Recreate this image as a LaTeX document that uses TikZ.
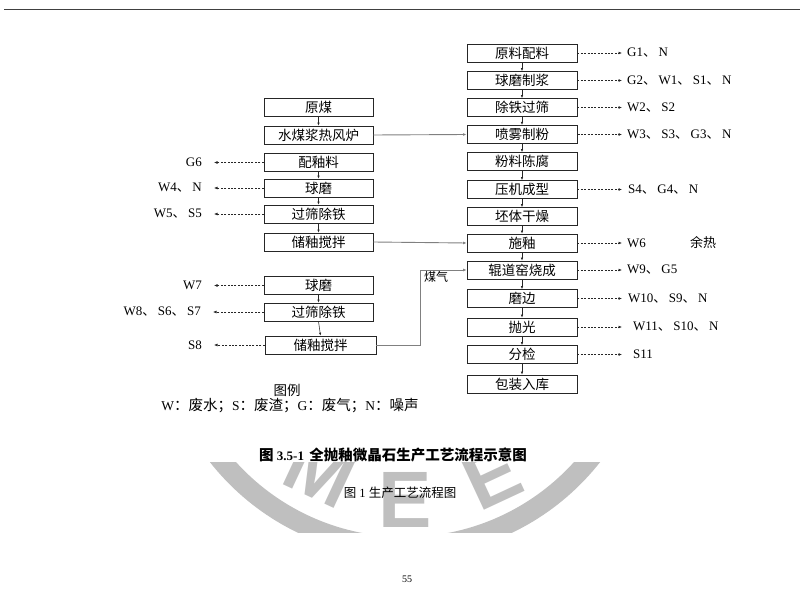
\documentclass[tikz,border=0pt]{standalone}
\usepackage{fontspec}
\setmainfont{Liberation Serif}
\newfontfamily\cjk{Noto Sans CJK SC}
\newfontfamily\wmfont{Liberation Sans}
\usetikzlibrary{arrows.meta}
\newcommand{\mydun}{{\cjk 、}\hspace{2.5pt}}
\tikzset{
  box/.style={draw=black!85, line width=0.7pt, minimum width=110pt, minimum height=18pt, inner sep=0pt, font=\cjk\fontsize{13.5}{14}\selectfont},
  rlab/.style={anchor=west, inner sep=0pt, font=\fontsize{13}{14}\selectfont},
  llab/.style={anchor=east, inner sep=0pt, font=\fontsize{13}{14}\selectfont},
  dar/.style={draw=black!85, dash pattern=on 2pt off 1.4pt, line width=0.55pt, -{Latex[length=3.5pt,width=2.8pt]}},
  sar/.style={draw=black!85, line width=0.55pt, -{Latex[length=3pt,width=2.4pt]}},
  gar/.style={draw=gray, line width=0.9pt, -{Latex[length=3.5pt,width=2.8pt]}},
  wm/.style={text=gray!50, inner sep=0pt, font=\wmfont\bfseries\fontsize{80}{80}\selectfont}
}
\begin{document}
\begin{tikzpicture}[x=1pt,y=-1pt]
\useasboundingbox (0,0) rectangle (800,596);
% watermark
\begin{scope}
\clip (0,462) rectangle (800,532);
\draw[gray!50, line width=20pt] (405,309) circle[radius=238];
\node[wm, rotate=-25] (wmM) at (320,472) {M};
\node[wm] (wmE) at (405,500) {E};
\node[wm, rotate=25] (wmE2) at (492,476) {E};
\end{scope}
% top rule
\draw[line width=1.6pt, black!75] (4,9.5) -- (800,9.5);
% right column
\node[box] (r1) at (522,53) {原料配料};
\node[box] (r2) at (522,80.5) {球磨制浆};
\node[box] (r3) at (522,107.5) {除铁过筛};
\node[box, line width=1pt] (r4) at (522,134.5) {喷雾制粉};
\node[box] (r5) at (522,161.5) {粉料陈腐};
\node[box] (r6) at (522,189.5) {压机成型};
\node[box] (r7) at (522,216.5) {坯体干燥};
\node[box] (r8) at (522,243) {施釉};
\node[box] (r9) at (522,270) {辊道窑烧成};
\node[box] (r10) at (522,298.5) {磨边};
\node[box] (r11) at (522,327) {抛光};
\node[box] (r12) at (522,354.5) {分检};
\node[box] (r13) at (522,384) {包装入库};
\foreach \a/\b in {r1/r2,r2/r3,r3/r4,r4/r5,r5/r6,r6/r7,r7/r8,r8/r9,r9/r10,r10/r11,r11/r12,r12/r13}
  \draw[sar] (\a) -- (\b);
% right labels
\node[rlab] (g1) at (627,53) {G1\mydun N};
\node[rlab] (g2) at (627,80.5) {G2\mydun W1\mydun S1\mydun N};
\node[rlab] (g3) at (627,107.5) {W2\mydun S2};
\node[rlab] (g4) at (627,134.5) {W3\mydun S3\mydun G3\mydun N};
\node[rlab] (g6) at (628,189.5) {S4\mydun G4\mydun N};
\node[rlab] (g8) at (627,243) {W6};
\node[rlab, font=\cjk\fontsize{13}{14}\selectfont] (yr) at (690,243) {余热};
\node[rlab] (g9) at (627,270) {W9\mydun G5};
\node[rlab] (g10) at (628,298.5) {W10\mydun S9\mydun N};
\node[rlab] (g11) at (633,327) {W11\mydun S10\mydun N};
\node[rlab] (g12) at (633,354.5) {S11};
\foreach \a/\b/\s in {r1/g1/5,r2/g2/5,r3/g3/5,r4/g4/5,r6/g6/6,r8/g8/5,r9/g9/5,r10/g10/6,r11/g11/11,r12/g12/11}
  \draw[dar] (\a.east) -- ([xshift=-\s pt]\b.west);
% left column (upper)
\node[box, minimum width=109pt] (la1) at (318.5,107) {原煤};
\node[box, minimum width=109pt] (la2) at (318.5,135) {水煤浆热风炉};
\node[box, minimum width=109pt] (la3) at (318.5,162.5) {配釉料};
\node[box, minimum width=109pt] (la4) at (318.5,188) {球磨};
\node[box, minimum width=109pt] (la5) at (318.5,214) {过筛除铁};
\node[box, minimum width=109pt] (la6) at (318.5,242) {储釉搅拌};
\foreach \a/\b in {la1/la2,la3/la4,la4/la5,la5/la6}
  \draw[sar] (\a) -- (\b);
\draw[gar] (la2.east) -- (r4.west);
\draw[gar] (la6.east) -- (r8.west);
% left column (lower)
\node[box, minimum width=109pt] (lb1) at (318.5,285.5) {球磨};
\node[box, minimum width=109pt] (lb2) at (318.5,312) {过筛除铁};
\node[box, minimum width=111pt] (lb3) at (320.5,345) {储釉搅拌};
\draw[sar] (lb1) -- (lb2);
\draw[sar] (lb2.south) -- (lb3.north);
\draw[gar] (lb3.east) -- ++(44,0) |- (r9.west);
\node[anchor=west, inner sep=0pt, font=\cjk\fontsize{12}{14}\selectfont] (mq) at (424,277) {煤气};
% left labels
\node[llab] (h3) at (202,162.5) {G6};
\node[llab] (h4) at (202,188) {W4\mydun N};
\node[llab] (h5) at (202,214) {W5\mydun S5};
\node[llab] (k1) at (202,285.5) {W7};
\node[llab] (k2) at (201,312) {W8\mydun S6\mydun S7};
\node[llab] (k3) at (202,345) {S8};
\foreach \a/\b in {la3/h3,la4/h4,la5/h5,lb1/k1,lb2/k2,lb3/k3}
  \draw[dar] (\a.west) -- ([xshift=12pt]\b.east);
% legend
\node[inner sep=0pt, font=\cjk\fontsize{13.5}{14}\selectfont] (lg) at (287,390) {图例};
\node[inner sep=0pt, font=\fontsize{13.5}{14}\selectfont] (lgt) at (290,406) {W{\cjk\fontsize{14.5}{15}\selectfont ：废水；}S{\cjk\fontsize{14.5}{15}\selectfont ：废渣；}G{\cjk\fontsize{14.5}{15}\selectfont ：废气；}N{\cjk\fontsize{14.5}{15}\selectfont ：噪声}};
% captions
\node[inner sep=0pt, font=\bfseries\fontsize{13}{14}\selectfont] (cap1) at (393,455) {{\cjk\bfseries\fontsize{14.5}{15}\selectfont 图} 3.5-1 \hspace{2pt}{\cjk\bfseries\fontsize{14.5}{15}\selectfont 全抛釉微晶石生产工艺流程示意图}};
\node[inner sep=0pt, font=\fontsize{12.5}{14}\selectfont] (cap2) at (400,493) {{\cjk 图} 1 {\cjk 生产工艺流程图}};
% page number
\node[inner sep=0pt, font=\fontsize{10}{12}\selectfont] (pg) at (407,579) {55};
\end{tikzpicture}
\end{document}
